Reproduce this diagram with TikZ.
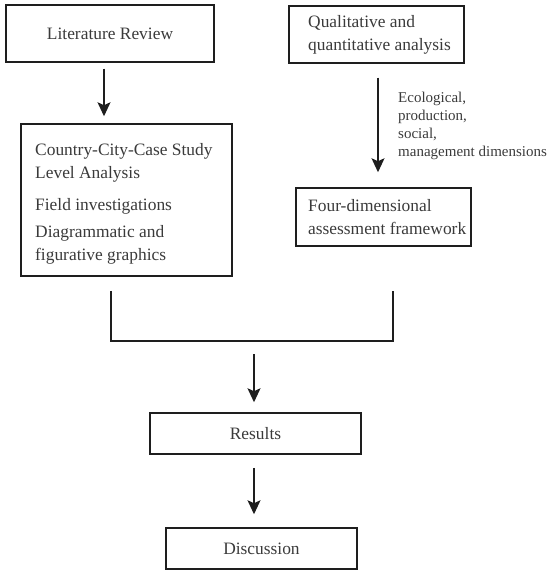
\documentclass[tikz,border=0pt]{standalone}
\usepackage{fontspec}
\setmainfont{Liberation Serif}
\usetikzlibrary{arrows.meta}
\definecolor{txt}{HTML}{3A3A3A}
\definecolor{ln}{HTML}{1E1E1E}
\begin{document}
\begin{tikzpicture}[x=1pt,y=-1pt,
  box/.style={draw=ln,line width=1.5pt,rectangle,inner sep=0pt,text=txt,font=\fontsize{17.4}{23}\selectfont},
  lbl/.style={text=txt,inner sep=0pt,align=left,font=\fontsize{17.4}{23}\selectfont},
  small/.style={text=txt,inner sep=0pt,align=left,font=\fontsize{15}{18}\selectfont},
  arr/.style={draw=ln,line width=1.5pt,-{Stealth[width=13pt,length=14pt,inset=3pt]}},
  conn/.style={draw=ln,line width=1.5pt}]
\useasboundingbox (0,0) rectangle (550,575);
% boxes
\node[box,minimum width=208pt,minimum height=57pt] (lit) at (110,33.5) {Literature Review};
\node[box,minimum width=211pt,minimum height=152pt] (country) at (126.5,200) {};
\node[box,minimum width=175pt,minimum height=57pt] (qual) at (376.5,34.5) {};
\node[box,minimum width=175pt,minimum height=58pt] (four) at (383.5,217) {};
\node[box,minimum width=211pt,minimum height=41pt] (res) at (255.5,433.5) {Results};
\node[box,minimum width=191pt,minimum height=41pt] (disc) at (261.5,548.5) {Discussion};
% texts
\node[lbl,anchor=west] (qtext) at (308,35) {Qualitative and\\quantitative analysis};
\node[lbl,anchor=west] (ftext) at (308,217) {Four-dimensional\\assessment framework};
\node[lbl,anchor=north west] (ctext) at (35,143) {Country-City-Case Study\\Level Analysis\\[9pt]Field investigations\\[4pt]Diagrammatic and\\figurative graphics};
\node[small,anchor=north west] (dims) at (398,92) {Ecological,\\production,\\social,\\management dimensions};
% connectors
\draw[arr,shorten <=6pt,shorten >=7pt] ([xshift=-6pt]lit.south) -- ([xshift=-6pt]lit.south |- country.north);
\draw[arr,shorten <=14pt,shorten >=15pt] ([xshift=1.5pt]qual.south) -- ([xshift=1.5pt]qual.south |- four.north);
\coordinate (jl) at (111,341);
\coordinate (jr) at (393,341);
\coordinate (jm) at (254,341);
\draw[conn] ([xshift=-15.5pt,yshift=-14pt]country.south) -- (jl) -- (jr) -- ([xshift=9.5pt,yshift=-44pt]four.south);
\draw[arr,shorten <=13pt,shorten >=10pt] (jm) -- (jm |- res.north);
\draw[arr,shorten <=13pt,shorten >=13pt] ([xshift=-1.5pt]res.south) -- ([xshift=-1.5pt]res.south |- disc.north);
\end{tikzpicture}
\end{document}
